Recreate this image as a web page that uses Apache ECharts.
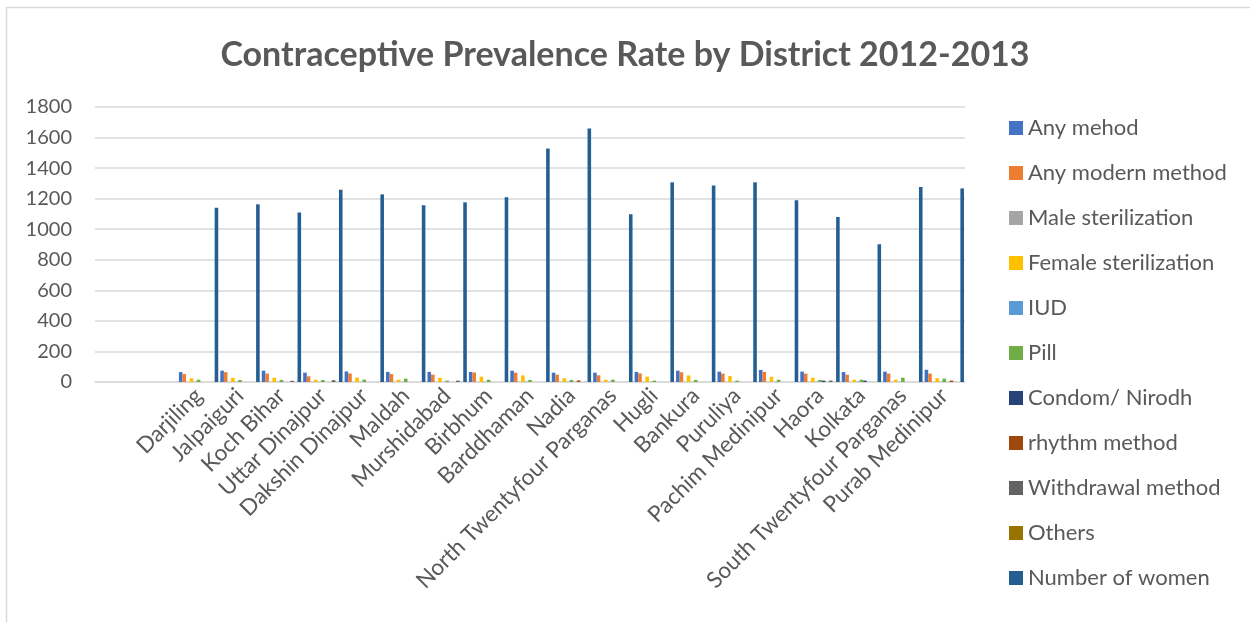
<!DOCTYPE html>
<html>
<head>
<meta charset="utf-8">
<title>Contraceptive Prevalence Rate by District 2012-2013</title>
<script src="https://cdn.jsdelivr.net/npm/echarts@6/dist/echarts.min.js"></script>
<style>
  html, body { margin: 0; padding: 0; background: #ffffff; }
  #chart { width: 1250px; height: 622px; }
</style>
</head>
<body>
<div id="chart"></div>
<script>
// District names (two unnamed leading slots on the category axis)
const districts = [
  'Darjiling', 'Jalpaiguri', 'Koch Bihar', 'Uttar Dinajpur', 'Dakshin Dinajpur',
  'Maldah', 'Murshidabad', 'Birbhum', 'Barddhaman', 'Nadia',
  'North Twentyfour Parganas', 'Hugli', 'Bankura', 'Puruliya', 'Pachim Medinipur',
  'Haora', 'Kolkata', 'South Twentyfour Parganas', 'Purab Medinipur'
];
const leadingBlanks = ['', ''];

const yTicks = [0, 200, 400, 600, 800, 1000, 1200, 1400, 1600, 1800];

// Values per district, in the order of `districts`
const anyMethod      = [65, 74, 74, 61, 69, 66, 66, 66, 74, 61, 61, 66, 74, 68, 79, 68, 65, 68, 80];
const anyModern      = [52, 64, 55, 37, 56, 52, 48, 62, 61, 48, 44, 56, 64, 55, 66, 55, 48, 55, 55];
const maleSter       = [0.3, 0.2, 0.3, 0.1, 0.2, 0.2, 0.3, 0.4, 0.5, 0.3, 0.4, 0.3, 0.2, 0.2, 0.4, 0.3, 0.5, 0.3, 0.4];
const femaleSter     = [24, 28, 28, 15, 29, 15, 28, 35, 43, 25, 15, 35, 43, 39, 34, 28, 15, 15, 25];
const iud            = [1.2, 0.8, 0.9, 0.6, 0.7, 0.5, 0.6, 1.0, 1.5, 1.1, 1.4, 1.2, 0.9, 0.7, 1.3, 1.6, 2.0, 0.8, 1.0];
const pill           = [15, 13, 13, 13, 16, 22, 9, 15, 13, 13, 15, 9, 13, 9, 15, 14, 15, 28, 22];
const condom         = [0, 0, 0, 0, 0, 0, 0, 0, 0, 0, 0, 0, 0, 0, 0, 9, 9, 0, 0];
const rhythm         = [0, 0, 0, 0, 0, 0, 0, 0, 0, 10, 0, 0, 0, 0, 0, 0, 0, 0, 9];
const withdrawal     = [0, 0, 8, 12, 0, 0, 9, 0, 0, 0, 0, 0, 0, 0, 0, 9, 0, 0, 0];
const others         = [0, 0, 0, 0, 0, 0, 0, 0, 0, 0, 0, 0, 0, 0, 0, 0, 0, 0, 0];
const numberOfWomen  = [1141, 1163, 1109, 1259, 1228, 1157, 1176, 1209, 1528, 1659, 1098, 1307, 1287, 1307, 1189, 1080, 902, 1276, 1267];

const seriesNames = [
  'Any mehod', 'Any modern method', 'Male sterilization', 'Female sterilization', 'IUD',
  'Pill', 'Condom/ Nirodh', 'rhythm method', 'Withdrawal method', 'Others', 'Number of women'
];
const seriesValues = [
  anyMethod, anyModern, maleSter, femaleSter, iud,
  pill, condom, rhythm, withdrawal, others, numberOfWomen
];
const seriesColors = [
  '#4472C4', '#ED7D31', '#A5A5A5', '#FFC000', '#5B9BD5',
  '#70AD47', '#264478', '#9E480E', '#636363', '#997300', '#255E91'
];

const categories = leadingBlanks.concat(districts);
const FONT = 'Lato, "Noto Sans", sans-serif';
const TEXT = '#595959';

const chart = echarts.init(document.getElementById('chart'), null, { renderer: 'canvas' });

chart.setOption({
  backgroundColor: '#ffffff',
  animation: false,
  color: seriesColors,
  title: {
    text: 'Contraceptive Prevalence Rate by District 2012-2013',
    left: 'center',
    top: 33,
    textStyle: { fontFamily: FONT, fontSize: 34, fontWeight: 'bold', color: TEXT }
  },
  legend: {
    orient: 'vertical',
    left: 1004,
    top: 111,
    icon: 'rect',
    itemWidth: 14,
    itemHeight: 14,
    itemGap: 21,
    data: seriesNames,
    textStyle: { fontFamily: FONT, fontSize: 22, color: TEXT, lineHeight: 24 }
  },
  grid: { left: 95, right: 285, top: 107, bottom: 240, containLabel: false },
  xAxis: {
    type: 'category',
    data: categories,
    axisLine: { lineStyle: { color: '#d9d9d9', width: 1.5 } },
    axisTick: { show: false },
    axisLabel: {
      interval: 0, rotate: 45, margin: 10,
      fontFamily: FONT, fontSize: 22.5, color: TEXT
    }
  },
  yAxis: {
    type: 'value',
    min: 0, max: 1800, interval: 200,
    axisLine: { show: false },
    axisTick: { show: false },
    splitLine: { lineStyle: { color: '#d9d9d9', width: 1.5 } },
    axisLabel: {
      margin: 23, fontFamily: FONT, fontSize: 20, color: TEXT,
      formatter: v => (yTicks.indexOf(v) >= 0 ? String(v) : '')
    }
  },
  graphic: [{
    type: 'polyline',
    shape: { points: [[6.5, 622], [6.5, 7.5], [1250, 7.5]] },
    style: { stroke: '#d9d9d9', lineWidth: 1.5, fill: null },
    silent: true
  }],
  series: seriesNames.map((name, i) => ({
    name: name,
    type: 'bar',
    data: leadingBlanks.map(() => null).concat(seriesValues[i]),
    barGap: '0%',
    barCategoryGap: '5%',
    itemStyle: { color: seriesColors[i] }
  }))
});
</script>
</body>
</html>
